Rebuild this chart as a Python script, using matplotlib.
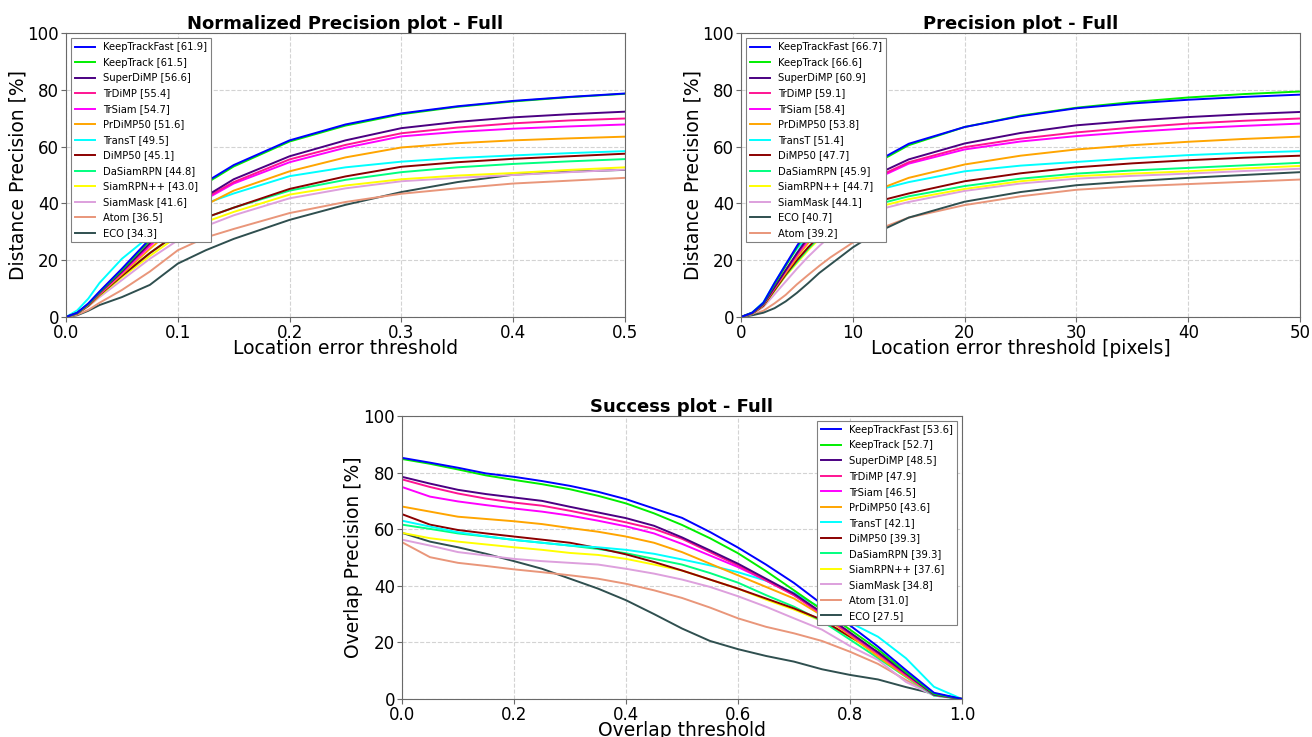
import numpy as np
import matplotlib
matplotlib.use("Agg")
from matplotlib import pyplot as plt

# tracker names and their colours (same order in all plots)
trackers = ["KeepTrackFast", "KeepTrack", "SuperDiMP", "TrDiMP", "TrSiam", "PrDiMP50",
            "TransT", "DiMP50", "DaSiamRPN", "SiamRPN++", "SiamMask", "Atom", "ECO"]
colors = {
    "KeepTrackFast": "#0000ff", "KeepTrack": "#00ee00", "SuperDiMP": "#4b0082",
    "TrDiMP": "#ff1493", "TrSiam": "#ff00ff", "PrDiMP50": "#ffa500",
    "TransT": "#00ffff", "DiMP50": "#8b0000", "DaSiamRPN": "#00ff7f",
    "SiamRPN++": "#ffff00", "SiamMask": "#dda0dd", "Atom": "#e9967a", "ECO": "#2f4f4f",
}

# ---- normalized precision ----
norm_x = [0, 0.01, 0.02, 0.03, 0.05, 0.075, 0.1, 0.125, 0.15, 0.2, 0.25, 0.3, 0.35, 0.4, 0.45, 0.5]
norm_auc = {"KeepTrackFast": 61.9, "KeepTrack": 61.5, "SuperDiMP": 56.6, "TrDiMP": 55.4,
            "TrSiam": 54.7, "PrDiMP50": 51.6, "TransT": 49.5, "DiMP50": 45.1,
            "DaSiamRPN": 44.8, "SiamRPN++": 43.0, "SiamMask": 41.6, "Atom": 36.5, "ECO": 34.3}
norm_y = {
    "KeepTrackFast": [0, 1.5, 4.8, 9, 17, 27.5, 37.5, 47.5, 53.5, 62.2, 67.8, 71.7, 74.2, 76.1, 77.5, 78.7],
    "KeepTrack": [0, 1.4, 4.5, 8.7, 16.5, 27, 37, 47, 53, 61.8, 67.4, 71.4, 74, 75.9, 77.4, 78.6],
    "SuperDiMP": [0, 1.4, 4.5, 8.5, 16, 26, 35, 42.5, 48.5, 56.6, 62.2, 66.5, 68.7, 70.3, 71.4, 72.3],
    "TrDiMP": [0, 1.4, 4.4, 8.3, 15.8, 25.5, 34.5, 42, 47.5, 55.5, 60.6, 64.7, 66.7, 68.2, 69.2, 69.9],
    "TrSiam": [0, 1.3, 4.3, 8.2, 15.5, 25, 34, 41.5, 47, 54.5, 59.6, 63.6, 65.2, 66.3, 67.1, 67.8],
    "PrDiMP50": [0, 1.3, 4.2, 8, 15, 24, 32.5, 39.5, 44.5, 51.3, 56.2, 59.7, 61.2, 62.2, 62.9, 63.5],
    "TransT": [0, 2.3, 6.5, 12, 20.5, 28.5, 35, 40, 43.5, 49.6, 52.7, 54.7, 56, 56.9, 57.7, 58.4],
    "DiMP50": [0, 1.2, 4, 7.8, 14.5, 22.5, 29.5, 35, 38.5, 45.1, 49.5, 52.9, 54.5, 55.7, 56.6, 57.5],
    "DaSiamRPN": [0, 1.2, 4, 7.8, 14.5, 22.5, 29.5, 35, 38.5, 44.5, 48.3, 51, 52.7, 53.9, 54.8, 55.6],
    "SiamRPN++": [0, 1.2, 3.9, 7.5, 14, 21.5, 28.5, 33.5, 37, 43.1, 46.3, 48.5, 49.8, 50.7, 51.8, 52.7],
    "SiamMask": [0, 1.1, 3.7, 7, 13, 20.5, 27, 32, 35.8, 41.8, 45.3, 47.8, 49, 50, 51, 51.9],
    "Atom": [0, 0.8, 2.5, 5, 9.5, 16, 23.5, 28, 31, 36.6, 40.5, 43.4, 45.3, 47, 48, 49],
    "ECO": [0, 0.6, 2.2, 4.2, 7, 11.3, 18.8, 23.5, 27.5, 34.2, 39.5, 44, 47.5, 50.1, 51.2, 51.8],
}

# ---- precision (pixels) ----
prec_x = [0, 1, 2, 3, 4, 5, 6, 7, 8, 10, 12, 15, 20, 25, 30, 35, 40, 45, 50]
prec_order = ["KeepTrackFast", "KeepTrack", "SuperDiMP", "TrDiMP", "TrSiam", "PrDiMP50",
              "TransT", "DiMP50", "DaSiamRPN", "SiamRPN++", "SiamMask", "ECO", "Atom"]
prec_auc = {"KeepTrackFast": 66.7, "KeepTrack": 66.6, "SuperDiMP": 60.9, "TrDiMP": 59.1,
            "TrSiam": 58.4, "PrDiMP50": 53.8, "TransT": 51.4, "DiMP50": 47.7,
            "DaSiamRPN": 45.9, "SiamRPN++": 44.7, "SiamMask": 44.1, "ECO": 40.7, "Atom": 39.2}
prec_y = {
    "KeepTrackFast": [0, 1.5, 5, 12, 18.5, 25, 31, 36.5, 41, 48.5, 54.5, 61, 66.9, 70.7, 73.5, 75.2, 76.5, 77.5, 78.3],
    "KeepTrack": [0, 1.5, 4.8, 11.5, 18, 24.5, 30.5, 36, 40.5, 48, 54, 60.5, 66.9, 70.9, 73.7, 75.7, 77.3, 78.5, 79.4],
    "SuperDiMP": [0, 1.4, 4.5, 10.5, 16.5, 22.5, 28, 33, 37.5, 44.5, 50, 55.5, 61.1, 64.8, 67.5, 69.1, 70.4, 71.4, 72.2],
    "TrDiMP": [0, 1.4, 4.5, 10.5, 16.5, 22, 27.5, 32.5, 37, 44, 49, 54.5, 59.8, 62.8, 65, 66.7, 68.1, 69.1, 69.9],
    "TrSiam": [0, 1.4, 4.4, 10.3, 16.2, 21.8, 27, 32, 36.5, 43.5, 48.5, 54, 59, 61.8, 63.7, 65.2, 66.4, 67.3, 68.1],
    "PrDiMP50": [0, 1.3, 4.2, 10, 15.5, 21, 26, 30.5, 34.5, 40.5, 44.5, 49, 53.7, 56.8, 59, 60.5, 61.7, 62.7, 63.5],
    "TransT": [0, 1.6, 5.2, 12, 18.5, 24, 28.5, 32.5, 36, 41, 44.5, 47.5, 51.3, 53.3, 54.6, 55.9, 57, 57.8, 58.4],
    "DiMP50": [0, 1.2, 4, 9.5, 15, 20, 24.5, 28.5, 32, 37, 40.5, 43.5, 47.8, 50.6, 52.7, 54.1, 55.2, 56.1, 56.8],
    "DaSiamRPN": [0, 1.2, 4, 9.5, 14.8, 19.5, 24, 28, 31.5, 36.5, 39.5, 42.5, 46.1, 48.7, 50.5, 51.6, 52.5, 53.4, 54.3],
    "SiamRPN++": [0, 1.2, 3.9, 9.2, 14.5, 19, 23.5, 27.5, 30.5, 35.5, 38.5, 41.5, 45.1, 47.8, 49.6, 50.5, 51.3, 52.3, 53.2],
    "SiamMask": [0, 1, 3.5, 8, 12.5, 17, 21.2, 25, 28.5, 34, 37.5, 40.5, 44.4, 47, 48.7, 49.7, 50.5, 51.4, 52.2],
    "ECO": [0, 0.6, 1.5, 3.1, 5.5, 8.5, 11.9, 15.5, 18.5, 24.5, 29.5, 35, 40.6, 44, 46.4, 47.8, 49, 50, 51],
    "Atom": [0, 0.8, 2.2, 4.8, 7.8, 11.5, 14.8, 18, 21, 26.2, 30.5, 35, 39.4, 42.5, 44.8, 46, 46.8, 47.6, 48.4],
}

# ---- success (overlap) ----
succ_x = [0, 0.05, 0.1, 0.15, 0.2, 0.25, 0.3, 0.35, 0.4, 0.45, 0.5,
          0.55, 0.6, 0.65, 0.7, 0.75, 0.8, 0.85, 0.9, 0.95, 1.0]
succ_auc = {"KeepTrackFast": 53.6, "KeepTrack": 52.7, "SuperDiMP": 48.5, "TrDiMP": 47.9,
            "TrSiam": 46.5, "PrDiMP50": 43.6, "TransT": 42.1, "DiMP50": 39.3,
            "DaSiamRPN": 39.3, "SiamRPN++": 37.6, "SiamMask": 34.8, "Atom": 31.0, "ECO": 27.5}
succ_y = {
    "KeepTrackFast": [85.2, 83.5, 81.7, 79.7, 78.5, 77.0, 75.3, 73.2, 70.6, 67.3, 64.0, 59.0, 53.5, 47.5, 41.0, 33.5, 26.0, 18.5, 10.2, 2.2, 0],
    "KeepTrack": [84.8, 83.1, 81.1, 79.0, 77.4, 75.9, 74.1, 71.8, 69.1, 65.6, 61.5, 56.8, 51.5, 45.2, 38.4, 31.5, 24.5, 17.5, 9.5, 1.8, 0],
    "SuperDiMP": [78.5, 76.1, 73.9, 72.4, 71.2, 70.0, 67.9, 65.9, 63.9, 61.2, 57.1, 52.5, 47.8, 42.5, 37.2, 30.5, 23.5, 16.5, 9.0, 1.5, 0],
    "TrDiMP": [77.6, 74.9, 72.6, 70.8, 69.4, 68.3, 66.5, 64.5, 62.4, 60.1, 56.6, 51.9, 47.2, 41.9, 36.7, 30.0, 23.0, 16.0, 8.5, 1.5, 0],
    "TrSiam": [74.9, 71.5, 69.8, 68.5, 67.3, 66.2, 64.8, 63.0, 61.0, 58.5, 54.8, 50.7, 46.6, 41.9, 36.7, 30.0, 23.0, 16.0, 8.5, 1.5, 0],
    "PrDiMP50": [68.0, 66.2, 64.4, 63.6, 62.8, 61.8, 60.4, 59.1, 57.4, 55.2, 51.9, 47.8, 43.7, 39.6, 35.5, 29.5, 22.5, 15.0, 8.0, 1.5, 0],
    "TransT": [63.0, 60.9, 58.9, 57.5, 56.2, 55.2, 54.2, 53.6, 52.7, 51.3, 49.3, 47.2, 44.8, 41.8, 37.5, 32.0, 27.0, 22.0, 14.4, 4.3, 0],
    "DiMP50": [65.3, 61.6, 59.7, 58.5, 57.4, 56.3, 55.2, 53.3, 51.1, 48.4, 45.4, 42.2, 39.0, 35.5, 32.0, 28.0, 22.0, 16.5, 9.0, 1.8, 0],
    "DaSiamRPN": [61.6, 60.1, 58.5, 57.4, 56.2, 55.2, 54.2, 53.0, 51.5, 49.5, 47.5, 44.5, 41.1, 36.7, 32.6, 27.5, 21.0, 14.5, 7.8, 1.2, 0],
    "SiamRPN++": [58.7, 56.8, 55.6, 54.6, 53.6, 52.7, 51.6, 50.9, 49.5, 47.5, 45.4, 42.2, 39.0, 35.1, 31.6, 27.5, 22.0, 15.5, 8.5, 1.5, 0],
    "SiamMask": [56.3, 54.2, 51.9, 50.7, 49.5, 48.7, 48.1, 47.5, 46.0, 44.3, 42.2, 39.6, 36.3, 32.6, 28.5, 24.5, 18.7, 13.8, 6.0, 1.2, 0],
    "Atom": [55.4, 50.1, 48.1, 47.0, 45.8, 44.8, 43.7, 42.5, 40.7, 38.4, 35.7, 32.3, 28.5, 25.5, 23.2, 20.5, 16.7, 12.4, 6.7, 1.5, 0],
    "ECO": [58.7, 55.6, 53.6, 51.3, 48.7, 46.0, 42.5, 39.0, 34.9, 30.0, 24.9, 20.5, 17.6, 15.2, 13.2, 10.5, 8.5, 6.9, 4.2, 1.8, 0],
}


def draw(ax, x, curves, auc, order, title, xlabel, ylabel, xlim, xticks, legend_loc):
    # draw last tracker first so the best one ends up on top
    for name in order[::-1]:
        ax.plot(x, curves[name], color=colors[name], linewidth=1.4,
                label="{} [{:.1f}]".format(name, auc[name]))
    handles, labels = ax.get_legend_handles_labels()
    leg = ax.legend(handles[::-1], labels[::-1], loc=legend_loc, fontsize=7.2,
                    labelspacing=0.55, fancybox=False, framealpha=1.0, edgecolor="gray")
    leg.get_frame().set_linewidth(0.8)
    ax.set_xlim(*xlim)
    ax.set_ylim(0, 100)
    ax.set_xticks(xticks)
    ax.set_yticks([0, 20, 40, 60, 80, 100])
    ax.grid(True, linestyle="--", color="lightgray", linewidth=0.8)
    ax.set_title(title, fontsize=13, fontweight="bold", pad=2)
    ax.set_xlabel(xlabel, fontsize=13.5, labelpad=-2)
    ax.set_ylabel(ylabel, fontsize=13.5, labelpad=0)
    ax.tick_params(labelsize=12, color="dimgray", pad=1.5)
    for sp in ax.spines.values():
        sp.set_color("dimgray")


fig = plt.figure(figsize=(13.12, 7.37), dpi=100)
ax1 = fig.add_axes([0.0503, 0.5699, 0.4261, 0.3853])
ax2 = fig.add_axes([0.5648, 0.5699, 0.4261, 0.3853])
ax3 = fig.add_axes([0.3064, 0.0516, 0.4268, 0.3840])

draw(ax1, norm_x, norm_y, norm_auc, trackers, "Normalized Precision plot - Full",
     "Location error threshold", "Distance Precision [%]", (0, 0.5),
     [0, 0.1, 0.2, 0.3, 0.4, 0.5], "upper left")
draw(ax2, prec_x, prec_y, prec_auc, prec_order, "Precision plot - Full",
     "Location error threshold [pixels]", "Distance Precision [%]", (0, 50),
     [0, 10, 20, 30, 40, 50], "upper left")
draw(ax3, succ_x, succ_y, succ_auc, trackers, "Success plot - Full",
     "Overlap threshold", "Overlap Precision [%]", (0, 1),
     [0, 0.2, 0.4, 0.6, 0.8, 1.0], "upper right")

fig.savefig("out.png", dpi=100)
